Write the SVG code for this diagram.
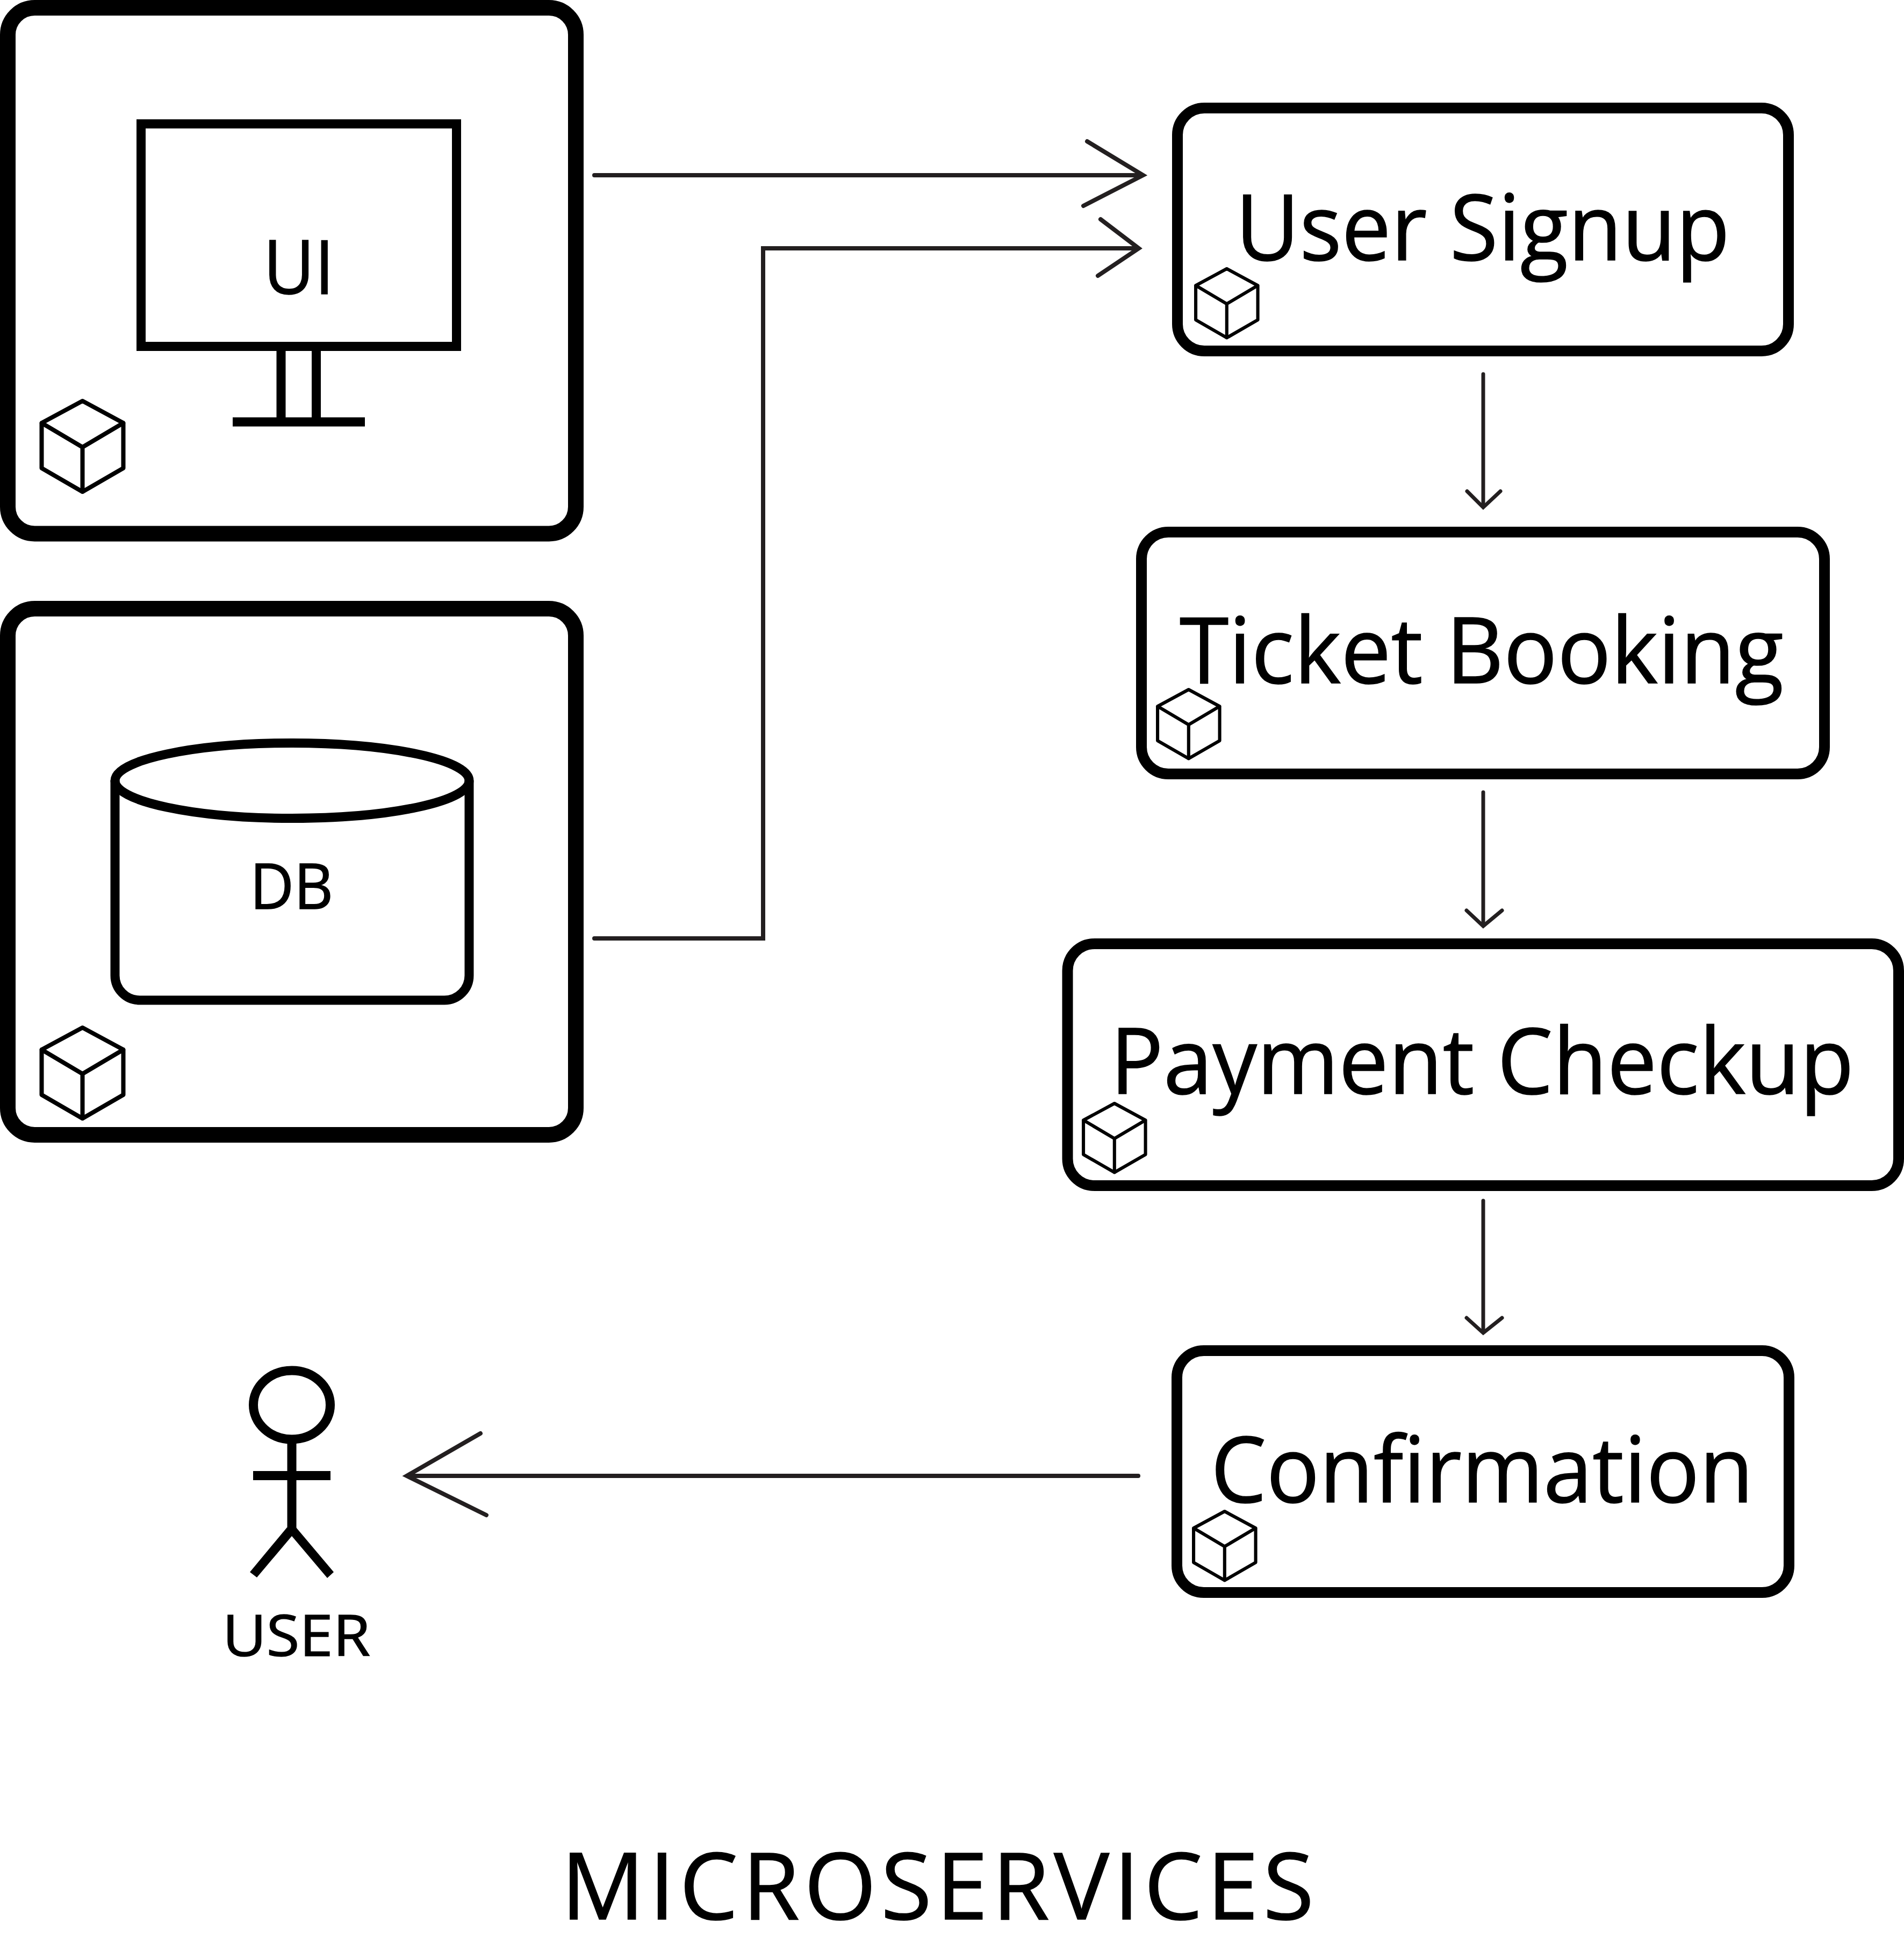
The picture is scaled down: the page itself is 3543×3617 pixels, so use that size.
<svg xmlns="http://www.w3.org/2000/svg" width="3543" height="3617" viewBox="0 0 3543 3617">
<style>
.big{fill:#fff;stroke:#000;stroke-width:29}
.svc{fill:#fff;stroke:#000;stroke-width:20}
.ln{fill:none;stroke:#000;stroke-width:17}
.cube{fill:none;stroke:#000;stroke-width:8;stroke-linejoin:round;stroke-linecap:round}
.con{fill:none;stroke:#231f20;stroke-width:8;stroke-linecap:round;stroke-linejoin:miter}
.thin{stroke-width:7}
text{font-family:"Open Sans","Noto Sans","Liberation Sans",sans-serif;fill:#000;stroke:#000;stroke-width:1.5}
</style>
<defs>
<g id="cube"><path class="cube" d="M80,4 L156,45 V129 L80,173 L4,129 V45 Z M4,45 L80,90 L156,45 M80,90 V173"/></g>
</defs>
<rect width="3543" height="3617" fill="#fff"/>
<g id="connectors">
<path class="con" d="M1106,326 H2125"/>
<path class="con" d="M2023,263 L2127,326 L2016,383"/>
<path class="con" d="M1106,1746 H1420 V462 H2116"/>
<path class="con" d="M2048,408 L2119,462 L2043,513"/>
<path class="con thin" d="M2760,696 V943"/>
<path class="con thin" d="M2730,914 L2760,944 L2792,914"/>
<path class="con thin" d="M2760,1474 V1722"/>
<path class="con thin" d="M2729,1694 L2760,1723 L2795,1694"/>
<path class="con thin" d="M2760,2234 V2479"/>
<path class="con thin" d="M2729,2452 L2760,2480 L2795,2452"/>
<path class="con" d="M2118,2746 H762"/>
<path class="con" d="M894,2667 L757,2746 L905,2819"/>
</g>
<g id="node-ui">
<rect class="big" x="14.5" y="14.5" width="1057" height="978.5" rx="50"/>
<rect class="ln" x="262.5" y="230.5" width="587" height="414"/>
<path class="ln" d="M523,645 V793 M588.500,645 V793 M433,785 H679"/>
<text x="490" y="547" font-size="140" textLength="132" lengthAdjust="spacingAndGlyphs">UI</text>
<use href="#cube" x="73.500" y="742"/>
</g>
<g id="node-db">
<rect class="big" x="14.5" y="1132.5" width="1057" height="979" rx="50"/>
<path class="ln" d="M214,1452 V1815 A46,46 0 0 0 260,1861 H827 A46,46 0 0 0 873,1815 V1452"/>
<ellipse class="ln" cx="543.500" cy="1452.500" rx="329.500" ry="70"/>
<text x="465" y="1691" font-size="118" textLength="155" lengthAdjust="spacingAndGlyphs">DB</text>
<use href="#cube" x="73.500" y="1908"/>
</g>
<g id="node-signup">
<rect class="svc" x="2191" y="201" width="1137" height="452" rx="50"/>
<text x="2299" y="484" font-size="170" textLength="920" lengthAdjust="spacingAndGlyphs">User Signup</text>
<use href="#cube" transform="translate(2222,497) scale(.76)"/>
</g>
<g id="node-ticket">
<rect class="svc" x="2124" y="990" width="1271" height="450" rx="50"/>
<text x="2195" y="1271" font-size="170" textLength="1124" lengthAdjust="spacingAndGlyphs">Ticket Booking</text>
<use href="#cube" transform="translate(2151,1280) scale(.76)"/>
</g>
<g id="node-payment">
<rect class="svc" x="1986.500" y="1756" width="1546.500" height="450" rx="50"/>
<text x="2066" y="2035" font-size="170" textLength="1384" lengthAdjust="spacingAndGlyphs">Payment Checkup</text>
<use href="#cube" transform="translate(2013,2050) scale(.76)"/>
</g>
<g id="node-confirmation">
<rect class="svc" x="2190" y="2513" width="1139" height="450" rx="50"/>
<text x="2253" y="2795" font-size="170" textLength="1010" lengthAdjust="spacingAndGlyphs">Confirmation</text>
<use href="#cube" transform="translate(2218,2809) scale(.76)"/>
</g>
<g id="node-user">
<ellipse class="ln" cx="543" cy="2614" rx="71.500" ry="64"/>
<path class="ln" d="M543,2678 V2850 M471,2745.500 H615"/>
<polygon points="534,2842 551,2842 621,2925 609,2936 543,2858 478,2935 465,2925" fill="#000"/>
<text x="414" y="3081" font-size="106" textLength="275" lengthAdjust="spacingAndGlyphs">USER</text>
</g>
<g id="title">
<text x="1044" y="3571" font-size="173" textLength="1401" lengthAdjust="spacing">MICROSERVICES</text>
</g>
</svg>
